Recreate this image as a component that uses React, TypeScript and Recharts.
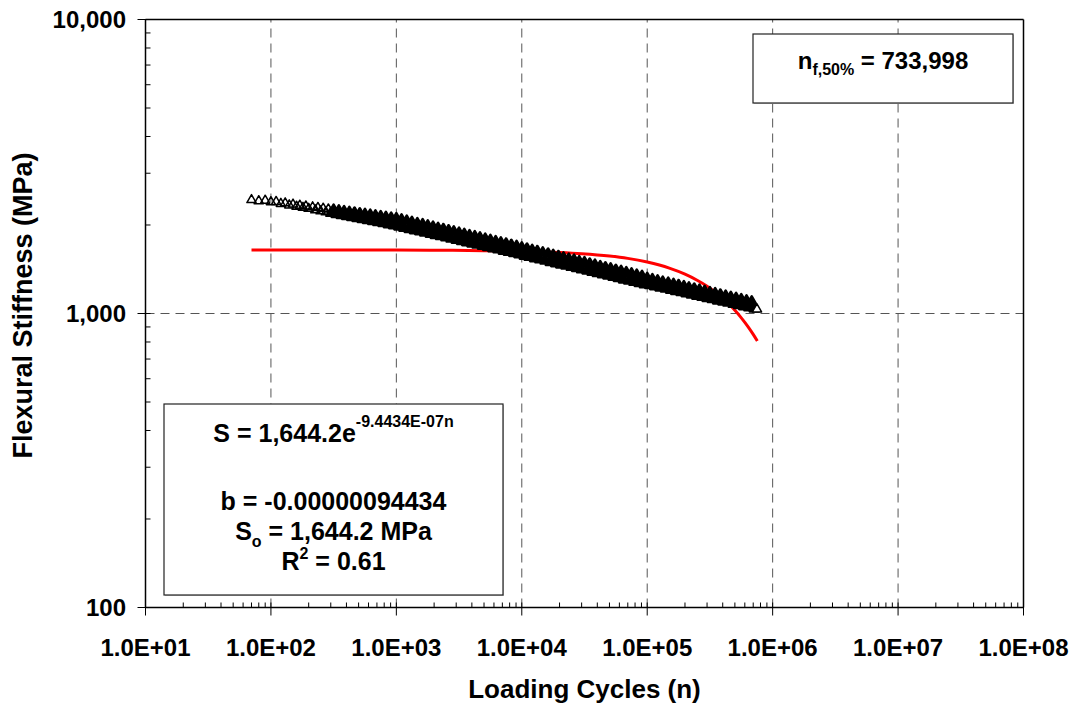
import React from 'react';
import { ComposedChart, XAxis, YAxis, Scatter, Line, ReferenceLine } from 'recharts';

// Measured flexural stiffness (MPa) versus loading cycles (n)
const cycles = [
  70, 80, 90, 100, 110, 120, 130, 140, 150, 160, 170, 180, 190, 200,
  215, 226, 237, 249, 261, 274, 287, 301, 316, 332, 348, 365, 383, 402, 422, 442,
  464, 487, 511, 536, 562, 590, 619, 649, 681, 715, 750, 787, 825, 866, 909, 953,
  1000, 1050, 1100, 1150, 1210, 1270, 1330, 1400, 1470, 1540, 1620, 1690, 1780, 1870, 1960, 2050,
  2150, 2260, 2370, 2490, 2610, 2740, 2870, 3010, 3160, 3320, 3480, 3650, 3830, 4020, 4220, 4420,
  4640, 4870, 5110, 5360, 5620, 5900, 6190, 6490, 6810, 7150, 7500, 7870, 8250, 8660, 9090, 9530,
  10000, 10500, 11000, 11500, 12100, 12700, 13300, 14000, 14700, 15400, 16200, 16900, 17800, 18700, 19600, 20500,
  21500, 22600, 23700, 24900, 26100, 27400, 28700, 30100, 31600, 33200, 34800, 36500, 38300, 40200, 42200, 44200,
  46400, 48700, 51100, 53600, 56200, 59000, 61900, 64900, 68100, 71500, 75000, 78700, 82500, 86600, 90900, 95300,
  100000, 105000, 110000, 115000, 121000, 127000, 133000, 140000, 147000, 154000, 162000, 169000, 178000, 187000, 196000, 205000,
  215000, 226000, 237000, 249000, 261000, 274000, 287000, 301000, 316000, 332000, 348000, 365000, 383000, 402000, 422000, 442000,
  464000, 487000, 511000, 536000, 562000, 590000, 619000, 649000, 681000, 715000, 750000,
];
const stiffness = [
  2450, 2428, 2438, 2410, 2415, 2378, 2388, 2350, 2365, 2327, 2345, 2305, 2330, 2288,
  2316, 2261, 2304, 2243, 2290, 2226, 2277, 2209, 2265, 2190, 2252, 2173, 2239, 2156, 2226, 2139,
  2214, 2122, 2201, 2105, 2189, 2089, 2177, 2072, 2165, 2055, 2153, 2039, 2140, 2022, 2128, 2006,
  2118, 1985, 2098, 1966, 2079, 1948, 2059, 1929, 2039, 1912, 2020, 1893, 2001, 1876, 1983, 1859,
  1964, 1841, 1946, 1824, 1927, 1806, 1909, 1790, 1891, 1772, 1874, 1756, 1856, 1739, 1839, 1723,
  1821, 1707, 1804, 1691, 1787, 1675, 1771, 1660, 1753, 1643, 1737, 1628, 1720, 1613, 1705, 1598,
  1686, 1580, 1670, 1565, 1653, 1549, 1638, 1535, 1621, 1520, 1606, 1504, 1590, 1490, 1575, 1475,
  1559, 1462, 1544, 1447, 1530, 1434, 1514, 1419, 1500, 1406, 1485, 1392, 1471, 1378, 1456, 1365,
  1442, 1352, 1429, 1339, 1414, 1326, 1401, 1312, 1387, 1300, 1374, 1287, 1361, 1275, 1347, 1262,
  1326, 1256, 1314, 1244, 1302, 1232, 1289, 1222, 1278, 1210, 1266, 1199, 1255, 1188, 1243, 1177,
  1232, 1166, 1221, 1155, 1210, 1145, 1198, 1135, 1187, 1124, 1177, 1113, 1165, 1104, 1155, 1094,
  1144, 1083, 1134, 1073, 1123, 1064, 1113, 1054, 1103, 1044, 1040,
];

// Exponential fit curve (red)
const fitCycles = [70, 100, 200, 500, 1000, 2000, 5000, 10000, 20000, 30000, 50000, 70000, 100000, 150000, 200000, 250000, 300000, 350000, 400000, 450000, 500000, 550000, 600000, 650000, 700000, 755000];
const fitStiffness = [1644, 1644, 1644, 1643, 1643, 1641, 1636, 1629, 1613, 1598, 1569, 1540, 1496, 1427, 1361, 1298, 1239, 1181, 1127, 1075, 1025, 978, 933, 890, 849, 806];

// Axes
const xMajorTicks = [10, 100, 1000, 10000, 100000, 1000000, 10000000, 100000000];
const xTickLabels = ['1.0E+01', '1.0E+02', '1.0E+03', '1.0E+04', '1.0E+05', '1.0E+06', '1.0E+07', '1.0E+08'];
const yMajorTicks = [100, 1000, 10000];
const yTickLabels = ['100', '1,000', '10,000'];
const minorMultipliers = [2, 3, 4, 5, 6, 7, 8, 9];
const xGridValues = [100, 1000, 10000, 100000, 1000000, 10000000];
const yGridValues = [1000];

const measured = cycles.map((n, i) => ({ n, s: stiffness[i], last: i === cycles.length - 1 }));
const fit = fitCycles.map((n, i) => ({ n, s: fitStiffness[i] }));

const withMinors = (majors: number[]) => {
  const out: number[] = [];
  majors.forEach((m, i) => {
    out.push(m);
    if (i < majors.length - 1) minorMultipliers.forEach((k) => out.push(m * k));
  });
  return out;
};
const xTicks = withMinors(xMajorTicks);
const yTicks = withMinors(yMajorTicks);

const FONT = '"Liberation Sans", Arial, Helvetica, sans-serif';

const XTick = (props: any) => {
  const { x, y, payload } = props;
  const idx = xMajorTicks.indexOf(payload.value);
  if (idx < 0) {
    return <line x1={x} x2={x} y1={y - 5} y2={y} stroke="#000" strokeWidth={1} />;
  }
  return (
    <g>
      <line x1={x} x2={x} y1={y - 5} y2={y + 8} stroke="#000" strokeWidth={1} />
      <text x={x} y={y + 48.5} textAnchor="middle" fontFamily={FONT} fontWeight="bold" fontSize={24} fill="#000">
        {xTickLabels[idx]}
      </text>
    </g>
  );
};

const YTick = (props: any) => {
  const { x, y, payload } = props;
  const idx = yMajorTicks.indexOf(payload.value);
  if (idx < 0) {
    return <line x1={x} x2={x + 5} y1={y} y2={y} stroke="#000" strokeWidth={1} />;
  }
  return (
    <g>
      <line x1={x - 8} x2={x + 5} y1={y} y2={y} stroke="#000" strokeWidth={1} />
      <text x={x - 19.5} y={y + 8.5} textAnchor="end" fontFamily={FONT} fontWeight="bold" fontSize={24} fill="#000">
        {yTickLabels[idx]}
      </text>
    </g>
  );
};

const YTitle = (props: any) => {
  const vb = props.viewBox || { x: 0, y: 11.5, width: 137.5, height: 588 };
  const cx = vb.x + 23.5;
  const cy = vb.y + vb.height / 2 - 8;
  return (
    <text
      x={cx}
      y={cy}
      transform={`rotate(-90, ${cx}, ${cy})`}
      textAnchor="middle"
      fontFamily={FONT}
      fontWeight="bold"
      fontSize={27}
      fill="#000"
    >
      Flexural Stiffness (MPa)
    </text>
  );
};

const Triangle = (props: any) => {
  const { cx, cy, payload } = props;
  if (cx == null || cy == null) return null;
  const dense = payload && payload.n >= 300 && !payload.last;
  return (
    <polygon
      points={`${cx},${cy - 4.5} ${cx - 4.6},${cy + 3.5} ${cx + 4.6},${cy + 3.5}`}
      fill={dense ? '#000' : payload && payload.last ? '#fff' : 'none'}
      stroke="#000"
      strokeWidth={dense ? 2.6 : 1.5}
      strokeLinejoin="round"
    />
  );
};

const W = 1073;
const H = 701;

export default function App() {
  return (
    <div style={{ position: 'relative', width: W, height: H }}>
      <ComposedChart width={W} height={H} margin={{ top: 11.5, right: 57.5, bottom: 1.5, left: 0 }}>
        <XAxis
          dataKey="n"
          type="number"
          scale="log"
          domain={[10, 100000000]}
          allowDataOverflow
          ticks={xTicks}
          interval={0}
          tickSize={0}
          tickMargin={0}
          tick={<XTick />}
          tickLine={false}
          axisLine={{ stroke: '#000', strokeWidth: 1.5 }}
          height={100}
          label={{
            value: 'Loading Cycles (n)',
            position: 'insideBottom',
            offset: 9.5,
            style: { fontFamily: FONT, fontWeight: 'bold', fontSize: 26, fill: '#000' },
          }}
        />
        <YAxis
          type="number"
          scale="log"
          domain={[100, 10000]}
          allowDataOverflow
          ticks={yTicks}
          interval={0}
          tickSize={0}
          tickMargin={0}
          tick={<YTick />}
          tickLine={false}
          axisLine={{ stroke: '#000', strokeWidth: 1.5 }}
          width={137.5}
          label={<YTitle />}
        />
        {xGridValues.map((v) => (
          <ReferenceLine key={'gx' + v} x={v} stroke="#555" strokeWidth={1} strokeDasharray="9 6" />
        ))}
        {yGridValues.map((v) => (
          <ReferenceLine key={'gy' + v} y={v} stroke="#555" strokeWidth={1} strokeDasharray="9 6" />
        ))}
        <ReferenceLine y={10000} stroke="#000" strokeWidth={1.5} />
        <ReferenceLine x={100000000} stroke="#000" strokeWidth={1.5} />
        <Scatter data={measured} dataKey="s" shape={<Triangle />} isAnimationActive={false} />
        <Line
          data={fit}
          dataKey="s"
          type="monotone"
          stroke="#ff0000"
          strokeWidth={3}
          dot={false}
          activeDot={false}
          isAnimationActive={false}
        />
      </ComposedChart>
      <svg
        width={W}
        height={H}
        style={{ position: 'absolute', left: 0, top: 0, pointerEvents: 'none' }}
        fontFamily={FONT}
        fontWeight="bold"
      >
        <rect x={746} y={27} width={260} height={69} fill="#c8c8c8" />
        <rect x={745} y={26} width={260} height={69} fill="#fff" stroke="#222" strokeWidth={1.2} />
        <text x={875} y={61} textAnchor="middle" fontSize={24} fill="#000">
          <tspan>n</tspan>
          <tspan fontSize={16} dy={6}>f,50%</tspan>
          <tspan dy={-6}> = 733,998</tspan>
        </text>

        <rect x={157} y={397} width={339} height={191} fill="#c8c8c8" />
        <rect x={156} y={396} width={339} height={191} fill="#fff" stroke="#222" strokeWidth={1.2} />
        <text x={325.5} y={434} textAnchor="middle" fontSize={25} fill="#000">
          <tspan>S = 1,644.2e</tspan>
          <tspan fontSize={16} dy={-15}>-9.4434E-07n</tspan>
        </text>
        <text x={325.5} y={502} textAnchor="middle" fontSize={25} fill="#000">b = -0.00000094434</text>
        <text x={325.5} y={532} textAnchor="middle" fontSize={25} fill="#000">
          <tspan>S</tspan>
          <tspan fontSize={16} dy={7}>o</tspan>
          <tspan dy={-7}> = 1,644.2 MPa</tspan>
        </text>
        <text x={325.5} y={562} textAnchor="middle" fontSize={25} fill="#000">
          <tspan>R</tspan>
          <tspan fontSize={16} dy={-11}>2</tspan>
          <tspan dy={11}> = 0.61</tspan>
        </text>
      </svg>
    </div>
  );
}
